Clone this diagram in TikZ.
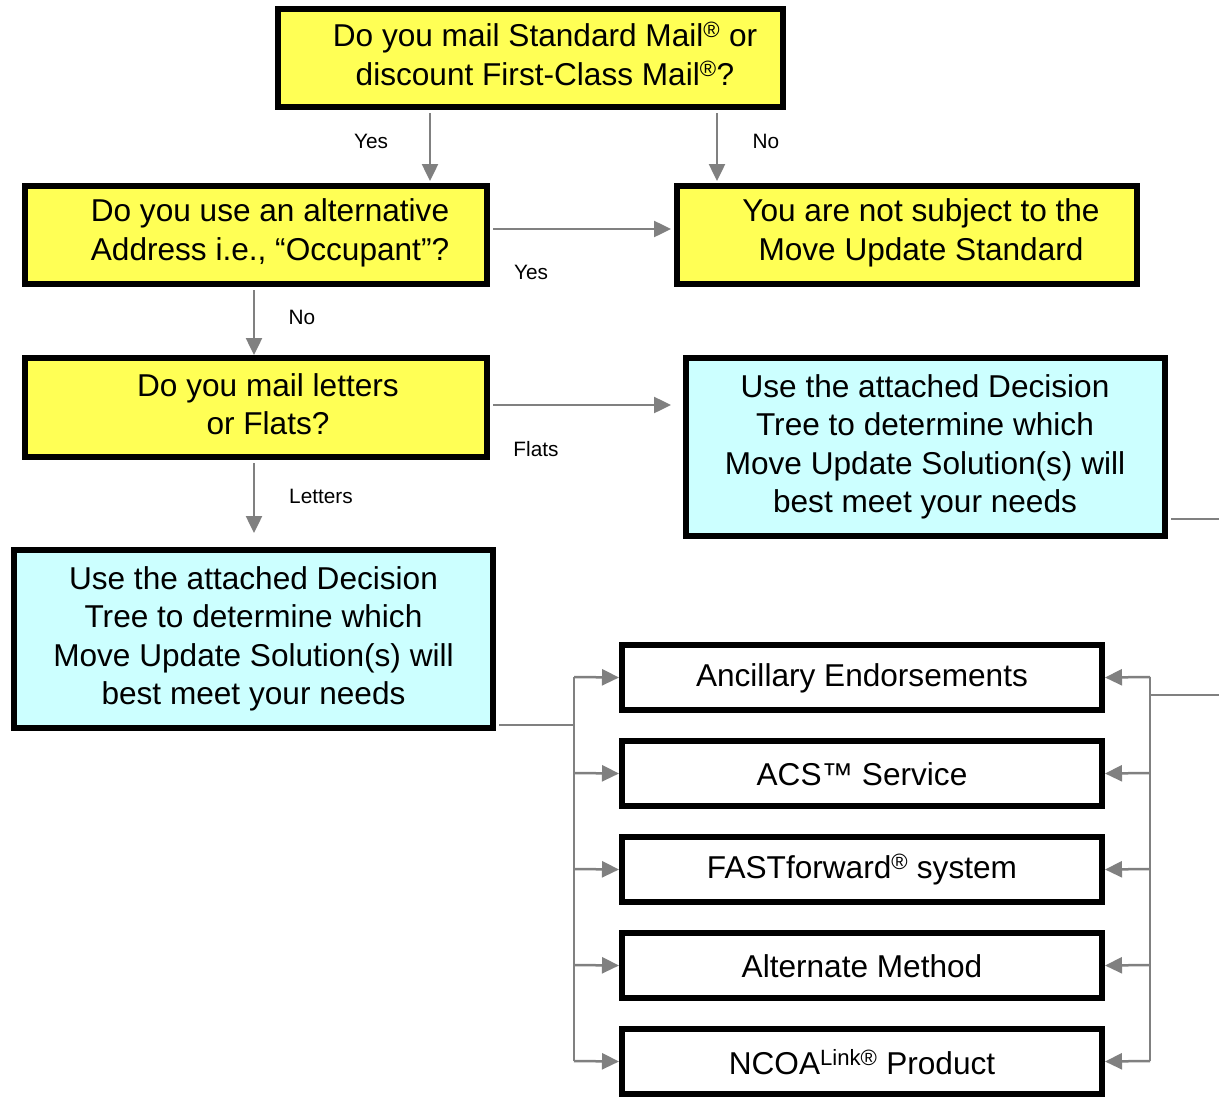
\documentclass[tikz,border=0pt]{standalone}
\usepackage{fontspec}
\setmainfont{Liberation Sans}
\usetikzlibrary{arrows.meta}
\definecolor{qyellow}{HTML}{FFFF55}
\definecolor{qcyan}{HTML}{CCFFFF}
\definecolor{conn}{HTML}{808080}
\begin{document}
\begin{tikzpicture}[x=1pt,y=-1pt,
  box/.style={draw=black,line width=6pt,rectangle,inner sep=0pt},
  ybox/.style={box,fill=qyellow},
  cbox/.style={box,fill=qcyan},
  wbox/.style={box,fill=white,minimum width=480pt,minimum height=65pt},
  txt/.style={font=\fontsize{31.6}{38.5}\selectfont,align=center,inner sep=0pt},
  lbl/.style={font=\fontsize{20.8}{24}\selectfont,inner sep=0pt},
  arr/.style={draw=conn,line width=2.5pt,-{Triangle[length=17pt,width=16pt]}},
  ln/.style={draw=conn,line width=2.5pt}]
\useasboundingbox (0,0) rectangle (1219,1100);
\fill[white] (0,0) rectangle (1219,1100);

% boxes
\node[ybox,minimum width=505pt,minimum height=98pt] (q1) at (530.5,58) {};
\node[txt] (q1t) at (545,54) {Do you mail Standard Mail\textsuperscript{®} or\\discount First-Class Mail\textsuperscript{®}?};

\node[ybox,minimum width=462pt,minimum height=98pt] (q2) at (256,235) {};
\node[txt] (q2t) at (270,233) {Do you use an alternative\\Address i.e., “Occupant”?};

\node[ybox,minimum width=460pt,minimum height=98pt] (ns) at (907,235) {};
\node[txt] (nst) at (921,233) {You are not subject to the\\Move Update Standard};

\node[ybox,minimum width=462pt,minimum height=99pt] (q3) at (256,407.5) {};
\node[txt] (q3t) at (268,404) {Do you mail letters\\or Flats?};

\node[cbox,minimum width=479pt,minimum height=178pt] (dr) at (925.5,447) {};
\node[txt] (drt) at (925,447) {Use the attached Decision\\Tree to determine which\\Move Update Solution(s) will\\best meet your needs};

\node[cbox,minimum width=479pt,minimum height=178pt] (dl) at (253.5,639) {};
\node[txt] (dlt) at (253.5,639) {Use the attached Decision\\Tree to determine which\\Move Update Solution(s) will\\best meet your needs};

\node[wbox] (s1) at (862,677.5) {};
\node[txt] at (862,678) {Ancillary Endorsements};
\node[wbox] (s2) at (862,773.5) {};
\node[txt] at (862,774) {ACS™ Service};
\node[wbox] (s3) at (862,869.5) {};
\node[txt] at (862,870) {FASTforward\textsuperscript{®} system};
\node[wbox] (s4) at (862,965.5) {};
\node[txt] at (862,966) {Alternate Method};
\node[wbox] (s5) at (862,1061.5) {};
\node[txt] at (862,1062) {NCOA\textsuperscript{Link®} Product};

% connectors
\draw[arr] (430,113) -- (430,181);
\node[lbl] at (371,141) {Yes};
\draw[arr] (717,113) -- (717,181);
\node[lbl] at (766,141) {No};

\draw[arr] (493,229) -- (671,229);
\node[lbl] at (531,272) {Yes};
\draw[arr] (254,290) -- (254,355);
\node[lbl] at (302,317) {No};

\draw[arr] (493,405) -- (671,405);
\node[lbl] at (536,449) {Flats};
\draw[arr] (254,463) -- (254,533);
\node[lbl] at (321,496) {Letters};

% left bus
\coordinate (lb) at (574,725);
\draw[ln] (dl.south east |- lb) ++(3,0) -- (lb);
\draw[ln] (574,677) -- (574,1061);
\foreach \s/\y in {s1/677,s2/773,s3/869,s4/965,s5/1061}{
  \draw[arr] (574,\y) -- (\s.west);
}

% right bus
\coordinate (re1) at (1219,519);
\coordinate (re2) at (1219,695);
\draw[ln] (1171,519) -- (re1);
\draw[ln] (re2) -- (1150,695);
\draw[ln] (1150,677) -- (1150,1061);
\foreach \s/\y in {s1/677,s2/773,s3/869,s4/965,s5/1061}{
  \draw[arr] (1150,\y) -- (\s.east);
}
\end{tikzpicture}
\end{document}
